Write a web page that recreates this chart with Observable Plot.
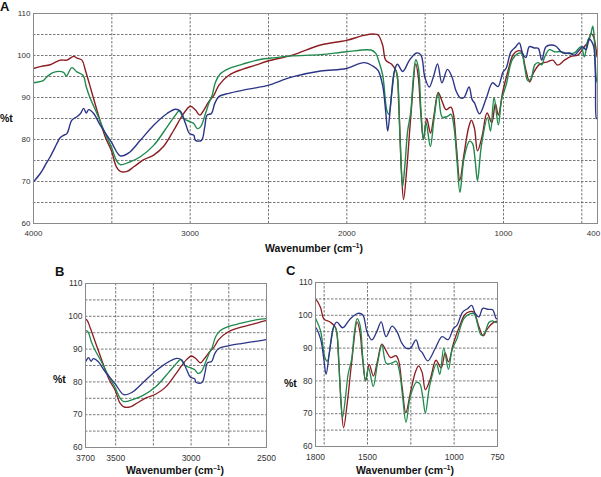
<!DOCTYPE html>
<html><head><meta charset="utf-8">
<script src="https://cdn.jsdelivr.net/npm/d3@7"></script>
<script src="https://cdn.jsdelivr.net/npm/@observablehq/plot@0.6"></script>
<style>
body{margin:0;background:#fff;font-family:"Liberation Sans",Arial,sans-serif;}
#page{position:relative;width:601px;height:477px;overflow:hidden;background:#fff;}
.panel{position:absolute;}
.lbl{position:absolute;font-weight:bold;color:#111;white-space:nowrap;line-height:1;}
.lbl sup{font-size:0.62em;vertical-align:0.55em;line-height:0;}
</style></head><body><div id="page"></div>
<script>
// wavenumber (cm-1), %t
const red = [[4000,96.9],[3950,97.4],[3893,97.8],[3829,98.9],[3787,98.9],[3744,99.8],[3723,99.4],[3691,98.9],[3669,96.5],[3630,91.5],[3595,87.0],[3542,80.6],[3503,77.4],[3471,73.5],[3446,72.4],[3403,72.4],[3360,73.5],[3296,75.2],[3233,76.3],[3169,78.4],[3105,82.2],[3062,85.0],[3030,86.8],[2998,87.9],[2966,87.0],[2938,85.8],[2913,87.0],[2881,89.0],[2849,90.5],[2817,92.9],[2753,95.3],[2668,96.7],[2583,97.7],[2504,98.7],[2348,100.1],[2167,102.5],[2003,103.6],[1890,104.8],[1826,105.1],[1800,104.9],[1771,102.4],[1752,98.9],[1714,97.9],[1684,96.2],[1668,87.5],[1652,73.0],[1638,65.7],[1617,73.2],[1592,85.3],[1560,98.0],[1544,95.0],[1529,87.0],[1511,80.0],[1490,85.0],[1466,81.5],[1444,85.7],[1417,91.2],[1391,89.0],[1367,87.1],[1336,87.7],[1320,86.1],[1300,78.0],[1279,70.3],[1252,76.5],[1223,82.8],[1205,84.6],[1185,82.6],[1166,77.3],[1137,80.7],[1105,86.3],[1075,84.0],[1052,88.5],[1033,85.8],[1004,91.5],[970,96.5],[940,100.1],[910,101.1],[887,101.0],[860,97.0],[833,93.7],[808,95.9],[770,97.9],[718,98.5],[686,98.9],[654,97.7],[611,98.9],[569,99.8],[526,100.1],[484,102.1],[458,103.3],[441,105.2],[424,104.4],[415,102.9],[403,99.7]];
const green = [[4000,93.5],[3936,94.1],[3915,94.9],[3872,96.0],[3808,96.0],[3791,95.1],[3755,97.1],[3723,96.1],[3684,95.3],[3663,92.5],[3642,90.2],[3595,86.2],[3542,81.4],[3503,78.2],[3471,75.1],[3446,74.0],[3382,74.7],[3318,75.9],[3233,78.6],[3147,83.0],[3094,85.8],[3070,86.8],[3041,85.0],[2998,84.2],[2977,83.8],[2955,82.6],[2934,83.0],[2902,86.2],[2881,88.6],[2860,90.5],[2838,93.7],[2806,95.7],[2753,96.9],[2668,97.9],[2561,99.0],[2455,99.5],[2348,99.9],[2167,100.2],[2003,100.9],[1847,101.3],[1815,100.5],[1795,98.5],[1771,95.3],[1745,87.0],[1732,86.0],[1712,91.5],[1692,96.7],[1678,95.0],[1660,80.0],[1644,68.8],[1628,74.5],[1612,82.0],[1592,86.5],[1575,95.0],[1560,99.0],[1543,97.0],[1527,87.0],[1511,80.0],[1494,84.0],[1467,78.3],[1444,84.7],[1417,91.0],[1391,85.3],[1358,85.5],[1335,86.0],[1316,83.0],[1297,75.0],[1278,67.4],[1252,75.5],[1217,79.6],[1198,79.1],[1181,75.0],[1166,70.2],[1141,78.6],[1102,85.2],[1083,82.0],[1060,90.0],[1033,83.5],[1012,89.5],[983,93.0],[944,99.0],[906,100.5],[885,100.5],[865,97.3],[845,94.0],[825,94.5],[800,97.8],[780,98.3],[755,97.8],[739,99.5],[707,101.4],[675,100.9],[633,100.9],[590,100.5],[548,100.6],[505,102.1],[484,99.7],[462,103.6],[445,104.8],[430,107.0],[420,103.6],[409,94.9],[403,93.7]];
const blue = [[4000,69.9],[3957,71.9],[3935,73.2],[3919,74.3],[3893,75.9],[3870,77.6],[3851,79.0],[3830,80.4],[3808,81.0],[3787,81.4],[3755,84.6],[3723,85.4],[3700,86.2],[3680,87.4],[3663,86.3],[3648,87.1],[3616,86.2],[3574,83.4],[3503,79.4],[3446,76.1],[3392,76.8],[3318,79.8],[3233,83.4],[3147,86.2],[3094,87.2],[3062,86.7],[3030,83.8],[3004,81.4],[2977,81.0],[2966,79.8],[2928,79.8],[2907,83.0],[2892,85.8],[2864,86.2],[2843,88.6],[2817,90.2],[2753,91.0],[2668,91.7],[2583,92.3],[2504,92.9],[2348,94.9],[2167,96.3],[2003,96.9],[1890,98.3],[1826,97.3],[1800,96.4],[1771,92.8],[1752,86.7],[1739,82.0],[1720,88.5],[1697,96.2],[1677,97.9],[1643,96.2],[1600,98.9],[1555,100.6],[1527,100.1],[1502,94.8],[1474,92.5],[1446,95.1],[1421,98.0],[1393,93.5],[1358,96.7],[1330,95.0],[1302,91.5],[1275,89.9],[1252,90.0],[1220,92.5],[1200,89.5],[1185,88.7],[1153,86.1],[1110,89.8],[1070,93.5],[1035,92.6],[1004,96.0],[984,96.9],[952,100.9],[921,102.1],[899,103.0],[878,100.5],[857,99.5],[835,102.1],[803,101.8],[778,101.7],[756,98.9],[729,102.1],[697,102.5],[665,102.2],[633,100.9],[611,100.5],[580,100.6],[548,100.1],[516,101.3],[495,102.1],[473,101.4],[452,104.0],[437,103.3],[424,102.1],[413,94.9],[407,85.0],[403,85.0]];

const yTicks = [60, 70, 80, 90, 100, 110];
const yGrid = [65, 70, 75, 80, 85, 90, 95, 100, 105];
const xTicksA = [4000, 3000, 2000, 1000];
const xEndTickA = [400];
const xGridA = [3500, 3000, 2500, 2000, 1500, 1000, 500];
const xTicksB = [3700, 3500, 3000, 2500];
const xGridB = [3500, 3250, 3000, 2750];
const xTicksC = [1800, 1500, 1000, 750];
const xGridC = [1750, 1500, 1250, 1000];

const series = [
  {data: red, color: "#8c1d22"},
  {data: green, color: "#1f8a4c"},
  {data: blue, color: "#2c3586"}
];

const panels = [
  {name: "A", left: 0, top: 0, width: 601, height: 240, mL: 33, mR: 4, mT: 13, mB: 17,
   domain: [4000, 400], xTicks: xTicksA, xEnd: xEndTickA, xGrid: xGridA, fs: 8, lw: 1.4,
   letter: [0, 0], pct: [0, 119], title: [314, 249]},
  {name: "B", left: 50, top: 270, width: 220, height: 195, mL: 35, mR: 4, mT: 13, mB: 18,
   domain: [3700, 2500], xTicks: xTicksB, xEnd: [], xGrid: xGridB, fs: 8.5, lw: 1.3,
   letter: [55, 265], pct: [53, 380], title: [175, 471]},
  {name: "C", left: 280, top: 270, width: 321, height: 195, mL: 35, mR: 104, mT: 12, mB: 19,
   domain: [1800, 750], xTicks: xTicksC, xEnd: [], xGrid: xGridC, fs: 8.5, lw: 1.3,
   letter: [286, 264], pct: [284, 384], title: [405, 471]}
];

const page = document.getElementById("page");

for (const p of panels) {
  const chart = Plot.plot({
    width: p.width, height: p.height,
    marginLeft: p.mL, marginRight: p.mR, marginTop: p.mT, marginBottom: p.mB,
    x: {type: "linear", domain: p.domain, axis: null},
    y: {type: "linear", domain: [60, 110], axis: null},
    style: {fontFamily: "Liberation Sans, Arial, sans-serif", fontSize: p.fs + "px", color: "#333", background: "transparent", overflow: "visible"},
    marks: [
      Plot.ruleY(yGrid, {stroke: "#555", strokeWidth: 0.8, strokeDasharray: "2.5,1.5"}),
      Plot.ruleX(p.xGrid, {stroke: "#555", strokeWidth: 0.8, strokeDasharray: "2.5,1.5"}),
      ...series.map(s => Plot.line(s.data, {x: d => d[0], y: d => d[1], stroke: s.color, strokeWidth: p.lw, curve: "catmull-rom", clip: true})),
      Plot.frame({stroke: "#8a8a8a", strokeWidth: 1}),
      Plot.axisX(p.xTicks, {tickSize: 0, tickPadding: 7, tickFormat: d => String(d), fill: "#333"}),
      Plot.axisX(p.xEnd, {tickSize: 0, tickPadding: 7, dx: -4, tickFormat: d => String(d), fill: "#333"}),
      Plot.axisY(yTicks, {tickSize: 0, tickPadding: 3, tickFormat: d => String(d), fill: "#333"})
    ]
  });
  const wrap = document.createElement("div");
  wrap.className = "panel";
  wrap.style.left = p.left + "px";
  wrap.style.top = p.top + "px";
  wrap.appendChild(chart);
  page.appendChild(wrap);

  const L = document.createElement("div");
  L.className = "lbl";
  L.style.fontSize = "13px";
  L.style.left = p.letter[0] + "px";
  L.style.top = p.letter[1] + "px";
  L.textContent = p.name;
  page.appendChild(L);

  const P = document.createElement("div");
  P.className = "lbl";
  P.style.fontSize = "10.5px";
  P.style.left = p.pct[0] + "px";
  P.style.top = (p.pct[1] - 6) + "px";
  P.textContent = "%t";
  page.appendChild(P);

  const T = document.createElement("div");
  T.className = "lbl";
  T.style.fontSize = "10.5px";
  T.style.left = p.title[0] + "px";
  T.style.top = (p.title[1] - 6) + "px";
  T.style.transform = "translateX(-50%)";
  T.innerHTML = "Wavenumber (cm<sup>\u20131</sup>)";
  page.appendChild(T);
}
</script></body></html>
